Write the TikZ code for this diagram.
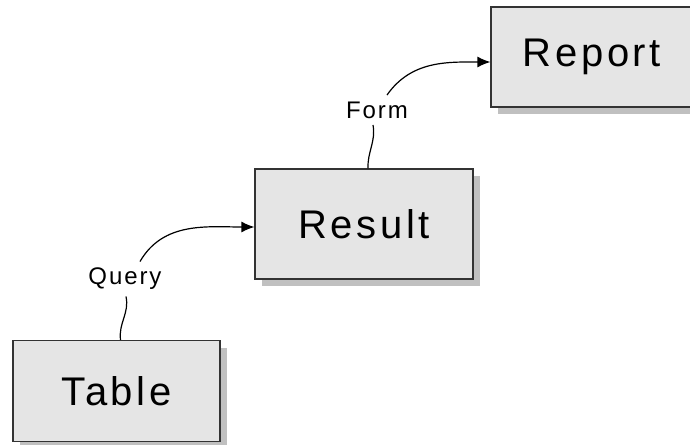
\documentclass[tikz,border=0pt]{standalone}
\usepackage{fontspec}
\usepackage{tikz}
\usetikzlibrary{arrows.meta,shadows}
\newfontfamily\boxfont{Liberation Sans}[LetterSpace=9]
\newfontfamily\lblfont{Liberation Sans}[LetterSpace=8]
\definecolor{boxfill}{HTML}{E5E5E5}
\definecolor{boxline}{HTML}{333333}
\definecolor{shade}{HTML}{C0C0C0}

\begin{document}
\begin{tikzpicture}[x=0.5pt,y=-0.5pt,>={Latex[length=6.5pt,width=5.5pt]},line width=0.6pt]
\tikzset{box/.style={draw=boxline,fill=boxfill,inner sep=0pt,
  drop shadow={shadow xshift=3.5pt,shadow yshift=-3.5pt,fill=shade,opacity=1},
  font=\boxfont\fontsize{20}{24}\selectfont},
  lbl/.style={inner sep=3pt,font=\lblfont\fontsize{12}{14}\selectfont}}
\clip (0,0) rectangle (690,444);
\node[box,minimum width=103.5pt,minimum height=50.5pt] (tbl) at (116.5,391) {Table};
\node[box,minimum width=109pt,minimum height=55pt] (res) at (364,224) {Result};
\node[box,minimum width=101pt,minimum height=50pt] (rep) at (592,57) {Report};
\node[lbl] (qry) at (125,279) {Query};
\node[lbl] (frm) at (377,110) {Form};
\draw ([xshift=2pt]tbl.north) to[out=97,in=-78] ([xshift=0.5pt]qry.south);
\draw[->] ([xshift=7.5pt]qry.north) to[out=60,in=180] ([yshift=-1.5pt]res.west);
\draw ([xshift=2pt]res.north) to[out=92,in=-80] ([xshift=-2pt]frm.south);
\draw[->] ([xshift=5pt]frm.north) to[out=55,in=180] ([yshift=-2.5pt]rep.west);
\end{tikzpicture}
\end{document}
